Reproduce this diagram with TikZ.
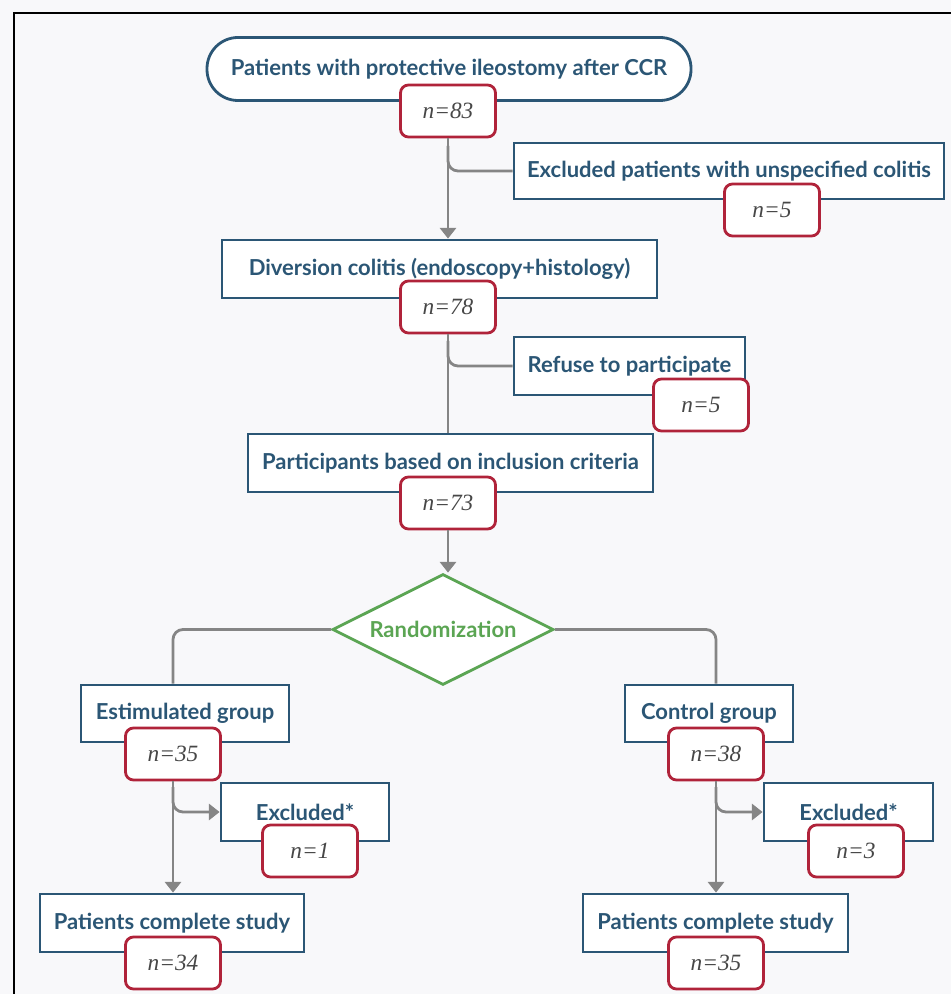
\documentclass[tikz,border=0pt]{standalone}
\usepackage{fontspec}
\setmainfont{Lato}
\newfontfamily\nfont{Liberation Serif}
\usetikzlibrary{shapes.geometric,arrows.meta,calc}
\definecolor{bg}{HTML}{F8F8FA}
\definecolor{boxc}{HTML}{2B5675}
\definecolor{redc}{HTML}{B0233A}
\definecolor{greyc}{HTML}{858585}
\definecolor{greenc}{HTML}{5BA553}
\def\u{0.75pt}
\tikzset{
  box/.style={draw=boxc, line width=2.8*\u, fill=white, inner sep=0pt,
    text=boxc, font=\fontsize{16.5}{18}\selectfont\bfseries},
  pill/.style={box, rounded corners=31*\u},
  nbox/.style={draw=redc, line width=2.8*\u, fill=white, rounded corners=8*\u,
    inner sep=0pt, minimum width=95*\u, minimum height=52*\u,
    font=\fontsize{17.5}{19}\selectfont\nfont\itshape, text=black!72},
  conn/.style={draw=greyc, line width=2.8*\u},
  arr/.style={conn, -{Triangle[width=12pt,length=8pt]}},
  rand/.style={diamond, draw=greenc, line width=2.8*\u, fill=white, inner sep=0pt,
    minimum width=221*\u, minimum height=111*\u,
    label={[text=greenc, font=\fontsize{16.5}{18}\selectfont\bfseries]center:Randomization}},
}
\begin{document}
\begin{tikzpicture}[x=0.75pt,y=-0.75pt]
\useasboundingbox (0,0) rectangle (951,994);
\fill[bg] (0,0) rectangle (951,994);
\draw[line width=2.5*\u, black] (14,994) -- (14,13) -- (951,13);

% boxes
\node[pill, minimum width=484*\u, minimum height=63*\u] (top) at (449,69) {Patients with protective ileostomy after CCR};
\node[box, minimum width=430*\u, minimum height=56*\u] (excl) at (729,171) {Excluded patients with unspecified colitis};
\node[box, minimum width=435*\u, minimum height=58*\u] (div) at (439.5,269) {Diversion colitis (endoscopy+histology)};
\node[box, minimum width=231*\u, minimum height=58*\u] (ref) at (629.5,366) {Refuse to participate};
\node[box, minimum width=405*\u, minimum height=58*\u] (part) at (450.5,463) {Participants based on inclusion criteria};
\node[rand] (rnd) at (443,629.5) {};
\node[box, minimum width=208*\u, minimum height=57*\u] (est) at (185,713.5) {Estimulated group};
\node[box, minimum width=168*\u, minimum height=57*\u] (ctl) at (709,713.5) {Control group};
\node[box, minimum width=168*\u, minimum height=58*\u] (exL) at (305,812) {Excluded*};
\node[box, minimum width=169*\u, minimum height=58*\u] (exR) at (848.5,812) {Excluded*};
\node[box, minimum width=264*\u, minimum height=58*\u] (pcL) at (172,923) {Patients complete study};
\node[box, minimum width=265*\u, minimum height=58*\u] (pcR) at (715.5,923) {Patients complete study};

% n boxes
\node[nbox] (n83) at (448,111) {n=83};
\node[nbox] (n5a) at (772,210) {n=5};
\node[nbox] (n78) at (448,307) {n=78};
\node[nbox] (n5b) at (701,405) {n=5};
\node[nbox] (n73) at (448,503) {n=73};
\node[nbox] (n35) at (173,754) {n=35};
\node[nbox] (n1) at (310,851) {n=1};
\node[nbox] (n38) at (716,754) {n=38};
\node[nbox] (n3) at (856,851) {n=3};
\node[nbox] (n34) at (173,963) {n=34};
\node[nbox] (n35b) at (716,963) {n=35};

% connectors
\draw[arr] (n83.south) -- (n83.south |- div.north);
\draw[conn, rounded corners=10*\u] ($(n83.south |- excl.west)+(0,-25)$) -- (n83.south |- excl.west) -- (excl.west);
\draw[conn] (n78.south) -- (n78.south |- part.north);
\draw[conn, rounded corners=10*\u] ($(n78.south |- ref.west)+(0,-25)$) -- (n78.south |- ref.west) -- (ref.west);
\draw[arr] (n73.south) -- (n73.south |- rnd.north);
\draw[conn, rounded corners=10*\u] (rnd.west) -| (n35.center |- est.north);
\draw[conn, rounded corners=10*\u] (rnd.east) -| (n38.center |- ctl.north);
\draw[arr] (n35.south) -- (n35.south |- pcL.north);
\draw[arr, rounded corners=10*\u] ($(n35.south |- exL.west)+(0,-25)$) -- (n35.south |- exL.west) -- (exL.west);
\draw[arr] (n38.south) -- (n38.south |- pcR.north);
\draw[arr, rounded corners=10*\u] ($(n38.south |- exR.west)+(0,-25)$) -- (n38.south |- exR.west) -- (exR.west);
\end{tikzpicture}
\end{document}
